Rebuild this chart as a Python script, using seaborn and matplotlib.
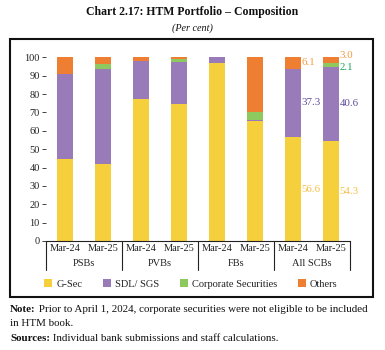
import matplotlib
matplotlib.use("Agg")
import matplotlib.pyplot as plt
import matplotlib.transforms as mtransforms
from matplotlib.patches import Rectangle, Patch
import seaborn as sns
import pandas as pd
import numpy as np

groups = ["PSBs", "PVBs", "FBs", "All SCBs"]
periods = ["Mar-24", "Mar-25"]
g_sec = [44.5, 42.1, 77.5, 74.8, 97.1, 65.3, 56.6, 54.3]
sdl = [46.6, 51.7, 20.5, 22.8, 2.9, 0.8, 37.3, 40.6]
corp = [0.0, 2.6, 0.0, 1.3, 0.0, 4.1, 0.0, 2.1]
others = [8.9, 3.6, 2.0, 1.1, 0.0, 29.8, 6.1, 3.0]
series_names = ["G-Sec", "SDL/ SGS", "Corporate Securities", "Others"]
colors = ["#F6CF3D", "#9A7BBA", "#8DC95E", "#EE7E32"]
label_colors = ["#F5BE45", "#5E4A9C", "#1AA65A", "#F39A40"]

sns.set_theme(style="white")
plt.rcParams["font.family"] = ["Liberation Serif", "DejaVu Serif"]

cats = [f"{g}|{p}" for g in groups for p in periods]
df = pd.DataFrame({"cat": cats, "G-Sec": g_sec, "SDL/ SGS": sdl,
                   "Corporate Securities": corp, "Others": others})

fig = plt.figure(figsize=(3.85, 3.5), dpi=100)
ax = fig.add_axes([46 / 385, 1 - 241 / 350, (350 - 46) / 385, (241 - 57.3) / 350])

# stacked via cumulative overlap
cum = np.zeros(len(cats))
cums = []
for s in series_names:
    cum = cum + df[s].values
    cums.append(cum.copy())
for i in range(3, -1, -1):
    d = pd.DataFrame({"cat": cats, "v": cums[i]})
    sns.barplot(data=d, x="cat", y="v", order=cats, color=colors[i],
                width=0.4, ax=ax, saturation=1, errorbar=None, linewidth=0)

ax.set_xlim(-0.5, 7.5)
ax.set_ylim(0, 100)
ax.set_yticks(range(0, 101, 10))
ax.tick_params(axis="y", labelsize=7.5, length=3, width=0.6, left=True, pad=1.5,
               colors="#222222")
ax.tick_params(axis="x", length=0, labelsize=7.5, pad=2.5, colors="#222222")
ax.set_xticks(range(len(cats)))
ax.set_xticklabels([c.split("|")[1] for c in cats])
ax.set_xlabel("")
ax.set_ylabel("")
for sp in ["top", "right", "left"]:
    ax.spines[sp].set_visible(False)
ax.spines["bottom"].set_color("#222222")
ax.spines["bottom"].set_linewidth(0.8)

# group separators and labels
trans = mtransforms.blended_transform_factory(ax.transData, ax.transAxes)
sep_len = 29 / 183.7
for xs in [-0.5, 1.5, 3.5, 5.5, 7.5]:
    ax.plot([xs, xs], [0, -sep_len], transform=trans, color="#222222",
            lw=0.8, clip_on=False)
for gi, g in enumerate(groups):
    ax.text(gi * 2 + 0.5, -23 / 183.7, g, transform=trans, ha="center",
            va="center", fontsize=7.5, color="#222222")

# data labels for All SCBs
offsets = {(6, 3): 0.0, (7, 2): -1.6, (7, 3): 2.6}
for bi in [6, 7]:
    base = 0
    for si, s in enumerate(series_names):
        v = df[s].values[bi]
        if v > 0:
            y = base + v / 2 + offsets.get((bi, si), 0)
            ax.text(bi + 0.2 + 0.02, y, f"{v:.1f}", ha="left", va="center",
                    fontsize=7.8, color=label_colors[si])
        base += v

# legend
handles = [Patch(facecolor=c, edgecolor="none") for c in colors]
fig.legend(handles, series_names, loc="center", bbox_to_anchor=(191 / 385, 1 - 284 / 350),
           ncol=4, frameon=False, fontsize=7.5, handlelength=0.75, handleheight=0.75,
           handletextpad=0.4, columnspacing=2.0, labelcolor="#222222")

# frame
fig.add_artist(Rectangle((10 / 385, 1 - 297 / 350), (373 - 10) / 385, (297 - 39) / 350,
                         transform=fig.transFigure, fill=False, edgecolor="#111111",
                         lw=1.5))

# titles
fig.text(192 / 385, 1 - 12 / 350, "Chart 2.17: HTM Portfolio \u2013 Composition",
         ha="center", va="center", fontsize=8.5, fontweight="bold", color="#111111")
fig.text(192 / 385, 1 - 28 / 350, "(Per cent)", ha="center", va="center",
         fontsize=7.3, style="italic", color="#111111")

# notes
def note(y, bold, rest):
    t = fig.text(10 / 385, 1 - y / 350, bold, ha="left", va="baseline",
                 fontsize=7.9, fontweight="bold", color="#111111")
    ax.annotate(rest, xy=(1, 0), xycoords=t, ha="left", va="bottom",
                fontsize=7.9, color="#111111", annotation_clip=False)

note(312, "Note:", " Prior to April 1, 2024, corporate securities were not eligible to be included")
fig.text(10 / 385, 1 - 326 / 350, "in HTM book.", ha="left", va="baseline",
         fontsize=7.9, color="#111111")
note(341, "Sources:", " Individual bank submissions and staff calculations.")

fig.savefig("out.png", dpi=100)
